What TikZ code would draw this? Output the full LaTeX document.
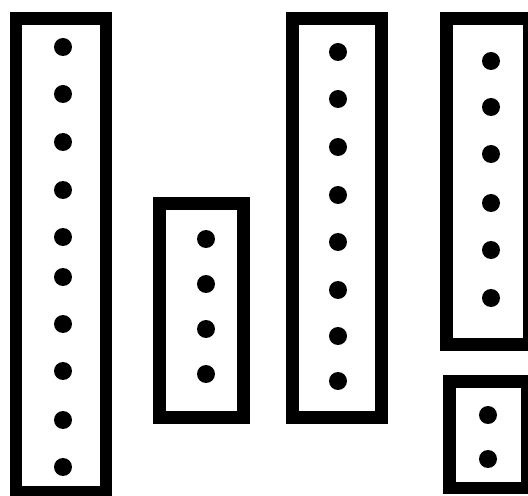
\documentclass[tikz,border=0pt]{standalone}
\usepackage{tikz}

\tikzset{
  box/.style={line width=0.25cm, draw=black, line join=miter},
  dot/.style={fill=black}
}

\begin{document}
\begin{tikzpicture}[x=0.02cm, y=-0.02cm]
  % frame of the picture
  \clip (0,0) rectangle (528,496);
  \useasboundingbox (0,0) rectangle (528,496);
  % tall box on the left
  \draw[box] (16,18.5) rectangle (106,492);
  \foreach \y in {47,94,142,190,237,277,324,371,420,467}
    \fill[dot] (63,\y) circle (0.18cm);
  % short box
  \draw[box] (159.5,203.5) rectangle (243.5,417.5);
  \foreach \y in {239,284,329,374}
    \fill[dot] (206,\y) circle (0.18cm);
  % middle box
  \draw[box] (292.5,18.5) rectangle (381.5,417.5);
  \foreach \y in {52,99,147,195,242,290,336,381}
    \fill[dot] (338,\y) circle (0.18cm);
  % upper right box
  \draw[box] (446.5,18.5) rectangle (529.5,344.5);
  \foreach \y in {61,107,154,203,250,298}
    \fill[dot] (491,\y) circle (0.18cm);
  % lower right box
  \draw[box] (449.5,381.5) rectangle (527.5,488);
  \foreach \y in {415,459}
    \fill[dot] (488,\y) circle (0.18cm);
\end{tikzpicture}
\end{document}
